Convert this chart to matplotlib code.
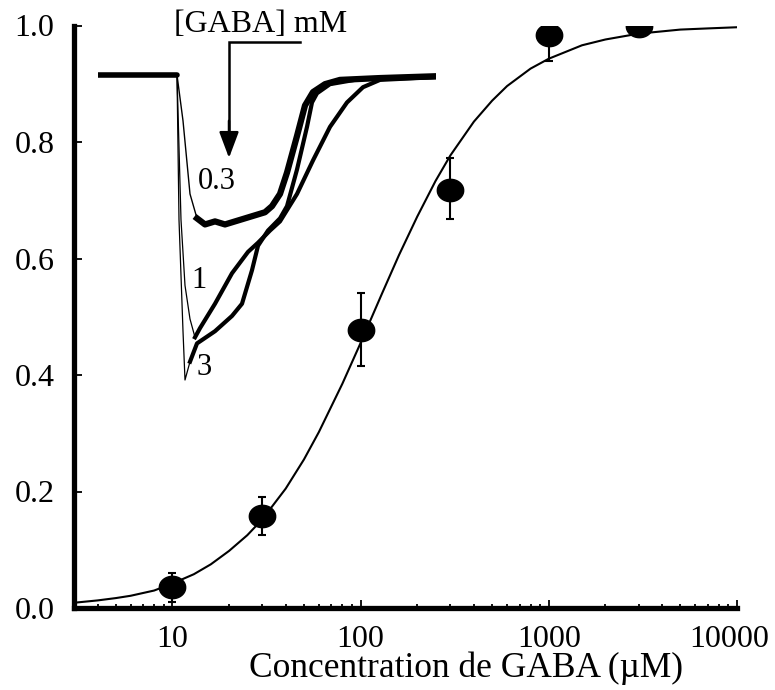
import numpy as np
import matplotlib
matplotlib.use("Agg")
import matplotlib.pyplot as plt
from matplotlib.path import Path
from matplotlib.transforms import ScaledTranslation

plt.rcParams['font.family'] = ['Liberation Serif', 'DejaVu Serif']

# ---- dose-response data ----
conc = [10, 30, 100, 300, 1000, 3000]
resp = [0.036, 0.158, 0.478, 0.717, 0.984, 1.0]
err_lo = [0.026, 0.033, 0.062, 0.05, 0.045, 0.0]
err_hi = [0.024, 0.033, 0.062, 0.055, 0.02, 0.0]

# fitted curve
curve_x = [3, 4, 5, 6, 8, 10, 13, 16, 20, 25, 30, 40, 50, 60, 80, 100, 130, 160,
           200, 250, 300, 400, 500, 600, 800, 1000, 1500, 2000, 3000, 5000, 7000, 10000]
curve_y = [0.009, 0.013, 0.017, 0.021, 0.030, 0.042, 0.058, 0.075, 0.098, 0.125,
           0.152, 0.205, 0.255, 0.302, 0.385, 0.455, 0.540, 0.606, 0.672, 0.733,
           0.777, 0.835, 0.871, 0.896, 0.926, 0.943, 0.966, 0.976, 0.986, 0.993,
           0.995, 0.997]

xticks = [10, 100, 1000, 10000]
xtick_labels = ['10', '100', '1000', '10000']
yticks = [0.0, 0.2, 0.4, 0.6, 0.8, 1.0]
ytick_labels = ['0.0', '0.2', '0.4', '0.6', '0.8', '1.0']

# ---- inset current traces (time in ms, normalised current) ----
t_03 = [0, 79, 85, 92, 99, 107, 117, 127, 137, 147, 157, 167, 174, 182, 189, 199,
        207, 215, 227, 242, 282, 338]
i_03 = [0, 0, -0.15, -0.39, -0.47, -0.49, -0.48, -0.49, -0.48, -0.47, -0.46, -0.45,
        -0.43, -0.39, -0.32, -0.20, -0.10, -0.056, -0.03, -0.016, -0.01, -0.004]
t_1 = [0, 79, 83, 87, 92, 97, 102, 117, 134, 150, 160, 172, 182, 199, 215, 232,
       249, 265, 282, 338]
i_1 = [0, 0, -0.475, -0.69, -0.80, -0.86, -0.83, -0.75, -0.65, -0.58, -0.55, -0.51,
       -0.48, -0.39, -0.28, -0.17, -0.09, -0.04, -0.016, -0.007]
t_3 = [0, 79, 81, 85, 87, 92, 99, 117, 134, 144, 154, 160, 170, 182, 189, 199, 209,
       214, 219, 232, 262, 338]
i_3 = [0, 0, -0.475, -0.84, -1.0, -0.94, -0.88, -0.84, -0.79, -0.75, -0.64, -0.56,
       -0.51, -0.47, -0.43, -0.31, -0.17, -0.09, -0.06, -0.03, -0.013, -0.007]
trace_labels = ['0.3', '1', '3']

W, H = 775, 690
fig = plt.figure(figsize=(W / 100, H / 100), dpi=100)
ax = fig.add_axes([74 / W, 1 - 608 / H, (737 - 74) / W, (608 - 25.5) / H])

ax.set_xscale('log')
ax.set_xlim(3, 10000)
ax.set_ylim(0, 1.0)

ax.plot(curve_x, curve_y, color='black', lw=1.5, zorder=2)

th = np.linspace(0, 2 * np.pi, 60)
ell = Path(np.column_stack([1.18 * np.cos(th), np.sin(th)]))
ax.errorbar(conc, resp, yerr=[err_lo, err_hi], fmt='none', ecolor='black',
            elinewidth=1.5, capsize=3, capthick=1.5, zorder=3)
ax.plot(conc, resp, linestyle='none', marker=ell, markersize=19,
        color='black', zorder=4)

for s in ['top', 'right']:
    ax.spines[s].set_visible(False)
for s in ['left', 'bottom']:
    ax.spines[s].set_linewidth(3.8)

ax.set_xticks(xticks)
ax.set_xticklabels(xtick_labels)
ax.set_yticks(yticks)
ax.set_yticklabels(ytick_labels)
ax.tick_params(axis='both', which='major', direction='in', length=6, width=1.3,
               labelsize=23, pad=12)
ax.tick_params(axis='x', which='minor', direction='in', length=3, width=1.3)
ax.tick_params(axis='y', which='minor', left=False)
ax.tick_params(axis='y', pad=14)
last = ax.xaxis.get_major_ticks()[-1].label1
last.set_transform(last.get_transform() + ScaledTranslation(-8 / 100, 0, fig.dpi_scale_trans))

ax.set_xlabel('Concentration de GABA (\u00b5M)', fontsize=25.5)
ax.xaxis.set_label_coords((466 - 74) / (737 - 74), -0.075)

# ---- inset ----
ins = fig.add_axes([98 / W, 1 - 395.25 / H, 338 / W, (395.25 - 14) / H])
ins.set_xlim(0, 338)
ins.set_ylim(-1.05, 0.2)
ins.axis('off')
ins.patch.set_alpha(0)

for t, i in [(t_1, i_1), (t_3, i_3)]:
    ins.plot(t, i, color='black', lw=0.9)
    ins.plot(t[5:], i[5:], color='black', lw=3.0, solid_joinstyle='round')
ins.plot(t_03, i_03, color='black', lw=1.0)
ins.plot(t_03[4:], i_03[4:], color='black', lw=4.5, solid_joinstyle='round')
ins.plot(t_03[:2], i_03[:2], color='black', lw=4.0, solid_capstyle='round')

ins.text(119, -0.348, trace_labels[0], fontsize=22, ha='center', va='center')
ins.text(101, -0.675, trace_labels[1], fontsize=22, ha='center', va='center')
ins.text(106, -0.96, trace_labels[2], fontsize=22, ha='center', va='center')

# bracket + arrow
ins.plot([131, 131, 202], [-0.20, 0.108, 0.108], color='black', lw=1.8,
         solid_joinstyle='miter')
ins.annotate('', xy=(131, -0.272), xytext=(131, -0.15),
             arrowprops=dict(arrowstyle='-|>,head_length=1.6,head_width=0.6',
                             color='black', lw=1.8, shrinkA=0, shrinkB=0))
ins.text(163, 0.167, '[GABA] mM', fontsize=23, ha='center', va='center')

fig.savefig('out.png', dpi=100)
